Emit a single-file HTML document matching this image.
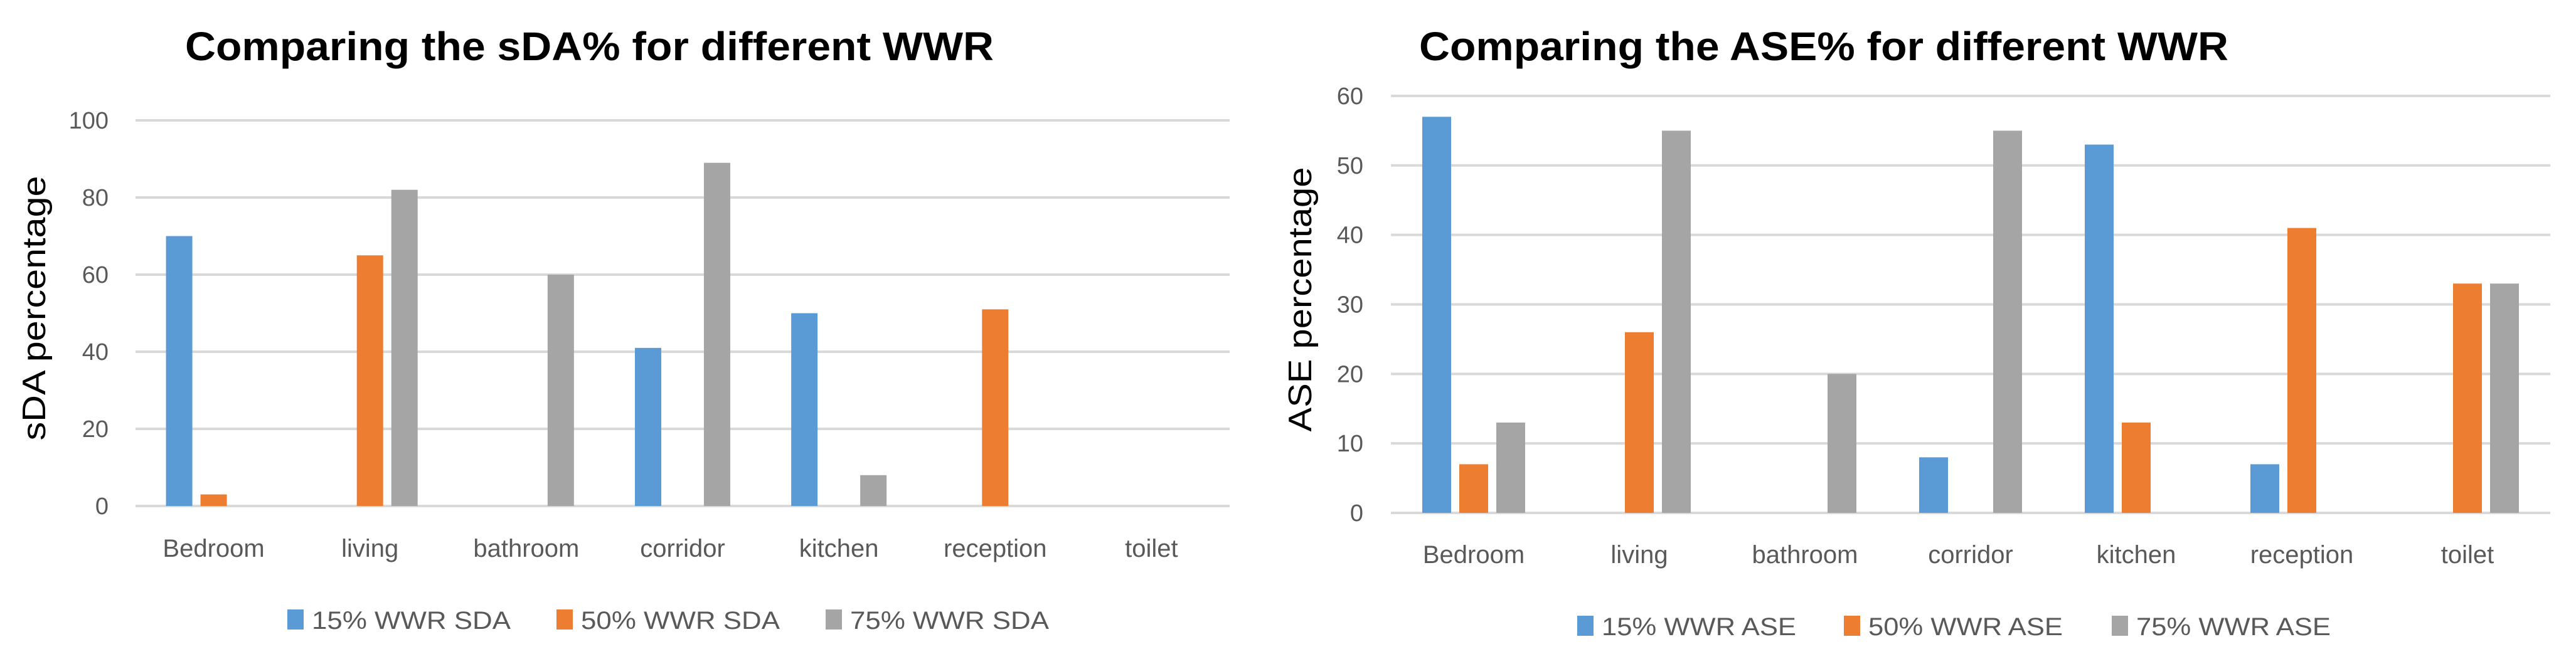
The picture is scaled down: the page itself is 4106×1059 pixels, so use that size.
<!DOCTYPE html>
<html><head><meta charset="utf-8"><style>
html,body{margin:0;padding:0;background:#fff;}
svg{display:block;font-family:"Liberation Sans",sans-serif;}
</style></head><body>
<svg id="svg" width="4106" height="1059" viewBox="0 0 4106 1059" xmlns="http://www.w3.org/2000/svg">
<rect width="4106" height="1059" fill="#fff"/>
</svg>
<script>
const categories = ["Bedroom","living","bathroom","corridor","kitchen","reception","toilet"];
const sdaSeriesNames = ["15% WWR SDA","50% WWR SDA","75% WWR SDA"];
const sda15 = [70,0,0,41,50,0,0];
const sda50 = [3,65,0,0,0,51,0];
const sda75 = [0,82,60,89,8,0,0];
const sdaTicks = [0,20,40,60,80,100];
const aseSeriesNames = ["15% WWR ASE","50% WWR ASE","75% WWR ASE"];
const ase15 = [57,0,0,8,53,7,0];
const ase50 = [7,26,0,0,13,41,33];
const ase75 = [13,55,20,55,0,0,33];
const aseTicks = [0,10,20,30,40,50,60];

const colors = ["#5B9BD5","#ED7D31","#A5A5A5"];
const NS = "http://www.w3.org/2000/svg";
const svg = document.getElementById("svg");
function mk(tag, attrs, parent){
  const e = document.createElementNS(NS, tag);
  for (const k in attrs) e.setAttribute(k, attrs[k]);
  (parent||svg).appendChild(e);
  return e;
}
function chart(cfg){
  const g = mk("g", {});
  
  
  const maxV = cfg.ticks[cfg.ticks.length-1];
  const yS = v => cfg.y0 - (v/maxV)*(cfg.y0-cfg.y1);
  const catW = (cfg.x1-cfg.x0)/categories.length;
  const xC = i => cfg.x0 + catW*(i+0.5);
  const t = mk("text", {x:cfg.titleX, y:cfg.titleY, "font-size":64, "font-weight":"bold", fill:"#000", textLength:cfg.titleW, lengthAdjust:"spacingAndGlyphs"}, g);
  t.textContent = cfg.title;
  
  
  cfg.ticks.forEach(v => {
    const l = mk("line", {x1:cfg.x0, x2:cfg.x1, y1:yS(v), y2:yS(v), stroke:"#D9D9D9", "stroke-width":4}, g);
    
    
    const tx = mk("text", {x:cfg.tickX, y:yS(v)+13, "font-size":38, fill:"#595959", "text-anchor":"end"}, g);
    tx.textContent = v;
    
    
  });
  const yt = mk("text", {x:0, y:0, "font-size":52, fill:"#000", "text-anchor":"middle", transform:`translate(${cfg.yTitleX},${(cfg.y0+cfg.y1)/2 - 8}) rotate(-90)`, textLength:422, lengthAdjust:"spacingAndGlyphs"}, g);
  yt.textContent = cfg.yTitle;
  
  
  const bw = cfg.bw, gap = 13;
  const groupW = 3*bw + 2*gap;
  cfg.series.forEach((s, si) => {
    s.forEach((v, i) => {
      if (v <= 0) return;
      const x = xC(i) - groupW/2 + si*(bw+gap);
      const r = mk("rect", {x:x, y:yS(v), width:bw, height:cfg.y0-yS(v), fill:colors[si]}, g);
      
      
    });
  });
  categories.forEach((c, i) => {
    const tx = mk("text", {x:xC(i), y:cfg.catY, "font-size":40, fill:"#595959", "text-anchor":"middle"}, g);
    tx.textContent = c;
    
    
  });
  cfg.names.forEach((n, si) => {
    const lx = cfg.legX[si];
    const sq = mk("rect", {x:lx, y:cfg.legY-17, width:26, height:32, fill:colors[si]}, g);
    
    
    const tx = mk("text", {x:lx+39, y:cfg.legY+14, "font-size":40, fill:"#595959", textLength:cfg.legW, lengthAdjust:"spacingAndGlyphs"}, g);
    tx.textContent = n;
    
    
  });
}
chart({id:"sda-chart", title:"Comparing the sDA% for different WWR", titleX:295, titleY:96, titleW:1289,
  x0:216, x1:1960, y0:807, y1:192, ticks:sdaTicks, tickX:173, yTitleX:72, yTitle:"sDA percentage",
  bw:42, series:[sda15,sda50,sda75], catY:888, names:sdaSeriesNames, legX:[458,887,1316], legY:989, legW:317});
chart({id:"ase-chart", title:"Comparing the ASE% for different WWR", titleX:2262, titleY:96, titleW:1290,
  x0:2217, x1:4065, y0:818, y1:153, ticks:aseTicks, tickX:2173, yTitleX:2090, yTitle:"ASE percentage",
  bw:46, series:[ase15,ase50,ase75], catY:898, names:aseSeriesNames, legX:[2514,2939,3366], legY:999, legW:310});
</script>
</body></html>
